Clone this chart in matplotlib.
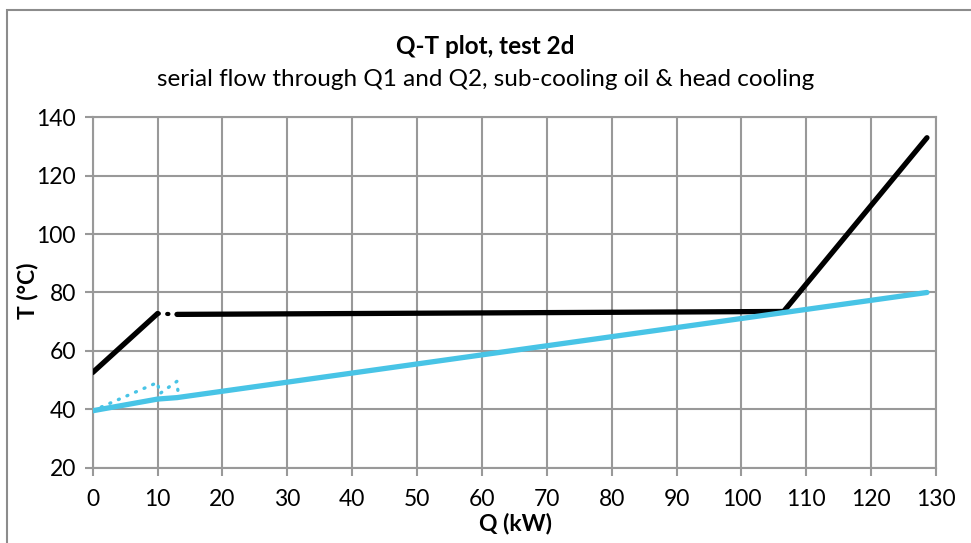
import matplotlib
matplotlib.use("Agg")
import matplotlib.pyplot as plt
from matplotlib.patches import Rectangle

# Data
hot_q1 = [0, 10]
hot_t1 = [52.6, 72.8]
hot_gap_q = [10, 13]
hot_gap_t = [72.8, 72.5]
hot_q2 = [13, 106.5, 128.6]
hot_t2 = [72.5, 73.5, 133.0]

cold_q = [0, 10, 13, 128.6]
cold_t = [39.5, 43.5, 44.0, 80.0]
cold_dot_q = [0, 10, 10.3, 13, 13.2]
cold_dot_t = [39.5, 49.2, 45.3, 49.6, 44.5]

xticks = list(range(0, 131, 10))
yticks = list(range(20, 141, 20))

plt.rcParams['font.family'] = ['Lato', 'DejaVu Sans']

W, H = 971, 543
fig = plt.figure(figsize=(W / 100, H / 100), dpi=100)
ax = fig.add_axes([0.0955, 0.1387, 0.964 - 0.0955, 0.784 - 0.1387])

black = '#000000'
blue = '#48C4E6'
grid = '#999999'

ax.plot(hot_q1, hot_t1, color=black, lw=3.8, solid_capstyle='round', zorder=3)
ax.plot(hot_gap_q, hot_gap_t, color=black, lw=3.0, linestyle=(0, (0.3, 2.0)),
        dash_capstyle='round', zorder=3)
ax.plot(hot_q2, hot_t2, color=black, lw=3.8, solid_capstyle='round', zorder=3)
ax.plot(cold_q, cold_t, color=blue, lw=3.8, solid_capstyle='round', zorder=3)
ax.plot(cold_dot_q, cold_dot_t, color=blue, lw=2.4, linestyle=(0, (0.3, 2.5)),
        dash_capstyle='round', zorder=3)

ax.set_xlim(0, 130)
ax.set_ylim(20, 140)
ax.set_xticks(xticks)
ax.set_yticks(yticks)
ax.grid(True, color=grid, lw=1.5)
ax.set_axisbelow(True)
for s in ax.spines.values():
    s.set_color(grid)
    s.set_linewidth(1.5)
ax.tick_params(axis='both', colors=grid, labelcolor='black', labelsize=16.5,
               width=1.5, length=6, direction='out')
ax.tick_params(axis='x', pad=9)
ax.tick_params(axis='y', pad=6)

fig.text(515 / W, 1 - 523 / H, 'Q (kW)', ha='center', va='center',
         fontsize=16.5, fontweight='bold')
fig.text(28 / W, 1 - 291 / H, 'T (°C)', ha='center', va='center',
         rotation=90, fontsize=16.5, fontweight='bold')

fig.text(0.5, 1 - 46 / H, 'Q-T plot, test 2d', ha='center', va='center',
         fontsize=17.5, fontweight='bold')
fig.text(0.5, 1 - 79 / H,
         'serial flow through Q1 and Q2, sub-cooling oil & head cooling',
         ha='center', va='center', fontsize=17.5)

# Outer chart frame
fig.patches.append(Rectangle((7 / W, -0.1), 1.2, 1 - 9.5 / H + 0.1,
                             transform=fig.transFigure, fill=False,
                             edgecolor='#8c8c8c', lw=1.5))

fig.savefig('out.png', dpi=100)
